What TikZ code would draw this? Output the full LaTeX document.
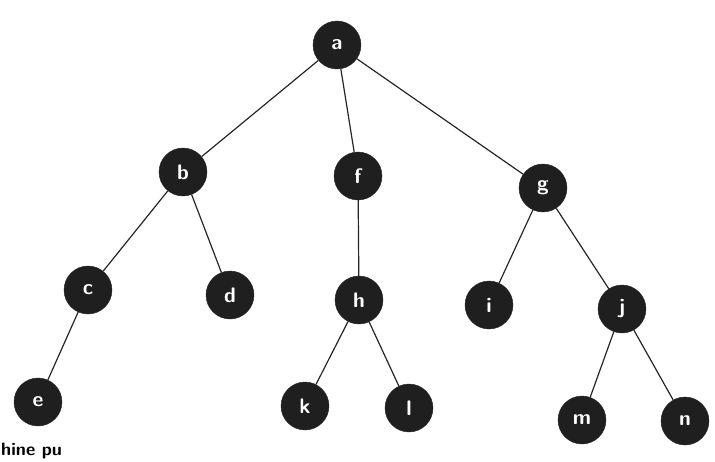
\documentclass[tikz,border=0pt]{standalone}
\usepackage{tikz}
\usetikzlibrary{arrows}

\begin{document}
\begin{tikzpicture}[vertex/.style={circle, draw=black!85, fill=black!88, text=white, minimum size=48pt, inner sep=0pt, font=\fontsize{21}{23}\sffamily\bfseries},
			x=1pt, y=-1pt,
			>=latex,
			edge/.style={draw=black!85, line width=1.2pt}]
			% Rahmen
			\useasboundingbox (0,0) rectangle (715,461);
			% Knoten
			\node[vertex] (a) at (337,45) {a};
			\node[vertex] (b) at (183,172) {b};
			\node[vertex] (f) at (358,176) {f};
			\node[vertex] (g) at (543,188) {g};
			\node[vertex] (c) at (88,290) {c};
			\node[vertex] (d) at (230,295) {d};
			\node[vertex] (h) at (359,300) {h};
			\node[vertex] (i) at (489,305) {i};
			\node[vertex] (j) at (622,309) {j};
			\node[vertex] (e) at (38,402) {e};
			\node[vertex] (k) at (305,406) {k};
			\node[vertex] (l) at (409,408) {l};
			\node[vertex] (m) at (582,420) {m};
			\node[vertex] (n) at (685,421) {n};
			% Kanten
			\foreach \p/\q in {a/b, a/f, a/g, b/c, b/d, f/h, g/i, g/j, c/e, h/k, h/l, j/m, j/n}
				\draw[edge] (\p) -- (\q);
			% Textrest unten
			\node[anchor=base west, inner sep=0pt, font=\fontsize{18}{20}\sffamily\bfseries] (rest) at (1,455) {hine pu};
		\end{tikzpicture}
\end{document}
